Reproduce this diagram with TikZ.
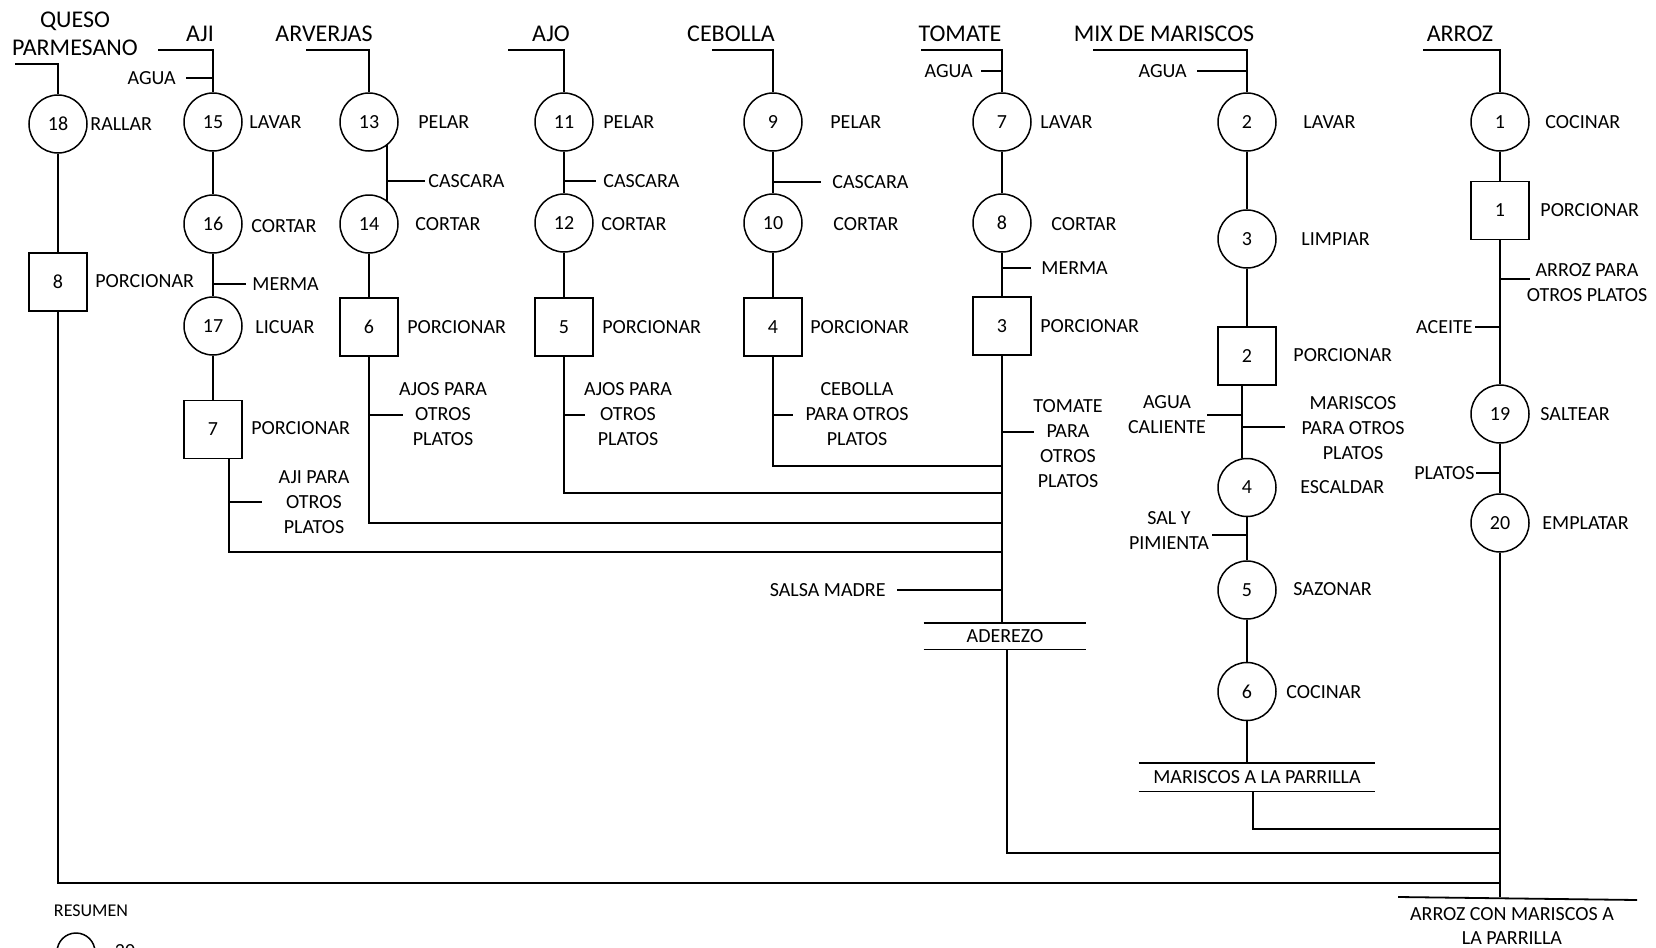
\documentclass[tikz,border=0pt]{standalone}
\usepackage{fontspec}
\setmainfont{Carlito}
\usetikzlibrary{calc}
\begin{document}
\begin{tikzpicture}[x=0.5pt,y=-0.5pt,
  every node/.style={font=\fontsize{10}{12.5}\selectfont, inner sep=0pt},
  proc/.style={circle, draw, line width=0.75pt, minimum size=29pt},
  port/.style={rectangle, draw, line width=0.75pt, minimum size=29pt},
  lbl/.style={anchor=west},
  lblr/.style={anchor=east},
  ttl/.style={font=\fontsize{12}{14}\selectfont, align=center},
  note/.style={align=center},
  conn/.style={line width=0.9pt},
  bar/.style={line width=0.9pt}]
\useasboundingbox (0,0) rectangle (1656,948);

% ---------- titles
\node[ttl] (tq)   at (75,34)   {QUESO\\PARMESANO};
\node[ttl] (taji) at (200,34)  {AJI};
\node[ttl] (tarv) at (324,34)  {ARVERJAS};
\node[ttl] (tajo) at (551,34)  {AJO};
\node[ttl] (tceb) at (731,34)  {CEBOLLA};
\node[ttl] (ttom) at (960,34)  {TOMATE};
\node[ttl] (tmix) at (1164,34) {MIX DE MARISCOS};
\node[ttl] (tarr) at (1460,34) {ARROZ};

% ---------- operations
\node[proc] (n18) at (58,124)   {18};
\node[proc] (n15) at (213,122)  {15};
\node[proc] (n13) at (369,122)  {13};
\node[proc] (n11) at (564,122)  {11};
\node[proc] (n9)  at (773,122)  {9};
\node[proc] (n7)  at (1002,122) {7};
\node[proc] (n2)  at (1247,122) {2};
\node[proc] (n1)  at (1500,122) {1};

\node[proc] (n16) at (213,224)  {16};
\node[proc] (n14) at (369,224)  {14};
\node[proc] (n12) at (564,223)  {12};
\node[proc] (n10) at (773,223)  {10};
\node[proc] (n8)  at (1002,223) {8};
\node[proc] (n3)  at (1247,239) {3};
\node[port] (b1)  at (1500,210.5) {1};

\node[port] (b8)  at (58,282)   {8};
\node[proc] (n17) at (213,326)  {17};
\node[port] (b6)  at (369,327)  {6};
\node[port] (b5)  at (564,327)  {5};
\node[port] (b4)  at (773,327)  {4};
\node[port] (b3)  at (1002,326) {3};
\node[port] (b2)  at (1247,356) {2};

\node[port] (b7)  at (213,429.5) {7};
\node[proc] (n4)  at (1247,487.5) {4};
\node[proc] (n19) at (1500,414) {19};
\node[proc] (n20) at (1500,523) {20};
\node[proc] (n5)  at (1247,590) {5};
\node[proc] (n6)  at (1247,691.5) {6};

% ---------- operation labels
\node[lbl] (l18) at (90,124)   {RALLAR};
\node[lbl] (l15) at (249,122)  {LAVAR};
\node[lbl] (l13) at (418,122)  {PELAR};
\node[lbl] (l11) at (603,122)  {PELAR};
\node[lbl] (l9)  at (830,122)  {PELAR};
\node[lbl] (l7)  at (1040,122) {LAVAR};
\node[lbl] (l2)  at (1303,122) {LAVAR};
\node[lbl] (l1)  at (1545,122) {COCINAR};

\node[lbl] (l16) at (251,226)  {CORTAR};
\node[lbl] (l14) at (415,224)  {CORTAR};
\node[lbl] (l12) at (601,224)  {CORTAR};
\node[lbl] (l10) at (833,224)  {CORTAR};
\node[lbl] (l8)  at (1051,224) {CORTAR};
\node[lbl] (l3)  at (1301,239) {LIMPIAR};
\node[lbl] (lb1) at (1540,210) {PORCIONAR};

\node[lbl] (lb8) at (95,281)   {PORCIONAR};
\node[lbl] (l17) at (255,327)  {LICUAR};
\node[lbl] (lb6) at (407,327)  {PORCIONAR};
\node[lbl] (lb5) at (602,327)  {PORCIONAR};
\node[lbl] (lb4) at (810,327)  {PORCIONAR};
\node[lbl] (lb3) at (1040,326) {PORCIONAR};
\node[lbl] (lb2) at (1293,355) {PORCIONAR};

\node[lbl] (lb7) at (251,428)  {PORCIONAR};
\node[lbl] (l4)  at (1300,487) {ESCALDAR};
\node[lbl] (l19) at (1540,414) {SALTEAR};
\node[lbl] (l20) at (1542,523) {EMPLATAR};
\node[lbl] (l5)  at (1293,589) {SAZONAR};
\node[lbl] (l6)  at (1286,692) {COCINAR};

% ---------- side inputs / outputs
\node[lblr] (aguaA) at (176,78)  {AGUA};
\node[lblr] (aguaT) at (973,71)  {AGUA};
\node[lblr] (aguaM) at (1187,71) {AGUA};
\node[lbl]  (mermaA) at (252,284) {MERMA};
\node[lbl]  (mermaT) at (1041,268) {MERMA};
\node[lbl]  (casV) at (428,181) {CASCARA};
\node[lbl]  (casJ) at (603,181) {CASCARA};
\node[lbl]  (casC) at (832,182) {CASCARA};
\node[note] (otA) at (314,502)  {AJI PARA\\OTROS\\PLATOS};
\node[note] (otV) at (443,414)  {AJOS PARA\\OTROS\\PLATOS};
\node[note] (otJ) at (628,414)  {AJOS PARA\\OTROS\\PLATOS};
\node[note] (otC) at (857,414)  {CEBOLLA\\PARA OTROS\\PLATOS};
\node[note] (otT) at (1068,444) {TOMATE\\PARA\\OTROS\\PLATOS};
\node[lblr] (salsa) at (886,590) {SALSA MADRE};
\node[note] (aguaC) at (1167,414.5) {AGUA\\CALIENTE};
\node[note] (otM) at (1353,428) {MARISCOS\\PARA OTROS\\PLATOS};
\node[note] (salp) at (1169,531) {SAL Y\\PIMIENTA};
\node[note] (otR) at (1587,282.5) {ARROZ PARA\\OTROS PLATOS};
\node[lblr] (aceite) at (1473,327) {ACEITE};
\node[lblr] (platos) at (1475,473) {PLATOS};

% ---------- intermediate / final products
\node[minimum width=81pt, minimum height=13pt] (ader) at (1005,636) {ADEREZO};
\draw[bar] (ader.north west) -- (ader.north east);
\draw[bar] (ader.south west) -- (ader.south east);
\node[minimum width=118pt, minimum height=14pt] (mar) at (1257,777) {MARISCOS A LA PARRILLA};
\draw[bar] (mar.north west) -- (mar.north east);
\draw[bar] (mar.south west) -- (mar.south east);
\node[note, font=\fontsize{10}{12}\selectfont] (fin) at (1512,926) {ARROZ CON MARISCOS A\\LA PARRILLA};
\coordinate (finL) at (1398,897);
\coordinate (finR) at (1637,900);
\draw[bar] (finL) -- (finR);

% ---------- legend (cut off at the bottom)
\node[font=\fontsize{9}{11}\selectfont] (res) at (91,911) {RESUMEN};
\node[proc, minimum size=19pt] (leg) at (76,952) {};
\node (legn) at (125,951) {20};

% ---------- merge points
\coordinate (mc) at (1002,466);
\coordinate (ma) at (1002,493);
\coordinate (mv) at (1002,523);
\coordinate (mj) at (1002,552);
\coordinate (jm) at (1500,829);
\coordinate (jd) at (1500,853);
\coordinate (jq) at (1500,883);

% ---------- QUESO PARMESANO
\coordinate (q0) at (15,64);
\draw[conn] (q0) -| (n18);
\draw[conn] (n18) -- (b8);
\draw[conn] (b8) |- (jq);

% ---------- AJI
\coordinate (a0) at (158,50);
\draw[conn] (a0) -| (n15);
\draw[conn] ($(aguaA.east)+(10,0)$) -- (aguaA.east -| n15);
\draw[conn] (n15) -- (n16);
\draw[conn] (n16) -- (n17);
\draw[conn] (mermaA.west -| n16) -- ($(mermaA.west)+(-6,0)$);
\draw[conn] (n17) -- (b7);
\coordinate (b7o) at ($(b7.south)+(16,0)$);
\draw[conn] (b7o) |- (mj);
\draw[conn] (b7o |- otA) -- ($(otA.west)+(-16,0)$);

% ---------- ARVERJAS
\coordinate (v0) at (306,50);
\draw[conn] (v0) -| (n13);
\draw[conn] (n13.-52) -- (n14.52);
\draw[conn] (n13.-52 |- casV.west) -- ($(casV.west)+(-3,0)$);
\draw[conn] (n14) -- (b6);
\draw[conn] (b6) |- (mv);
\coordinate (otVe) at (403,415);
\draw[conn] (b6 |- otVe) -- (otVe);

% ---------- AJO
\coordinate (j0) at (508,50);
\draw[conn] (j0) -| (n11);
\draw[conn] (n11) -- (n12);
\draw[conn] (n11 |- casJ.west) -- ($(casJ.west)+(-7,0)$);
\draw[conn] (n12) -- (b5);
\draw[conn] (b5) |- (ma);
\coordinate (otJe) at (585,415);
\draw[conn] (b5 |- otJe) -- (otJe);

% ---------- CEBOLLA
\coordinate (c0) at (712,50);
\draw[conn] (c0) -| (n9);
\draw[conn] (n9) -- (n10);
\draw[conn] (n9 |- casC.west) -- ($(casC.west)+(-11,0)$);
\draw[conn] (n10) -- (b4);
\draw[conn] (b4) |- (mc);
\coordinate (otCe) at (793,415);
\draw[conn] (b4 |- otCe) -- (otCe);

% ---------- TOMATE
\coordinate (t0) at (921,50);
\draw[conn] (t0) -| (n7);
\draw[conn] ($(aguaT.east)+(8,0)$) -- (aguaT.east -| n7);
\draw[conn] (n7) -- (n8);
\draw[conn] (mermaT.west -| n8) -- ($(mermaT.west)+(-10,0)$);
\draw[conn] (n8) -- (b3);
\draw[conn] (b3) -- (b3 |- ader.north);
\coordinate (otTe) at (1034,432);
\draw[conn] (b3 |- otTe) -- (otTe);
\draw[conn] ($(salsa.east)+(11,0)$) -- (salsa.east -| b3);
\draw[conn] ($(ader.south)+(2,0)$) |- (jd);

% ---------- MIX DE MARISCOS
\coordinate (m0) at (1093,50);
\draw[conn] (m0) -| (n2);
\draw[conn] ($(aguaM.east)+(10,0)$) -- (aguaM.east -| n2);
\draw[conn] (n2) -- (n3);
\draw[conn] (n3) -- (b2);
\coordinate (b2o) at ($(b2.south)+(-5,0)$);
\draw[conn] (b2o) -- (b2o |- n4.north);
\coordinate (acE) at (1207,415);
\draw[conn] (acE) -- (acE -| b2o);
\coordinate (omE) at (1285,427);
\draw[conn] (omE -| b2o) -- (omE);
\draw[conn] (n4) -- (n5);
\coordinate (spE) at (1212,535);
\draw[conn] (spE) -- (spE -| n4);
\draw[conn] (n5) -- (n6);
\draw[conn] (n6) -- (n6 |- mar.north);
\draw[conn] ($(mar.south)+(-4,0)$) |- (jm);

% ---------- ARROZ
\coordinate (r0) at (1423,50);
\draw[conn] (r0) -| (n1);
\draw[conn] (n1) -- (b1);
\draw[conn] (b1) -- (n19);
\coordinate (orE) at (1530,279);
\draw[conn] (orE -| b1) -- (orE);
\draw[conn] ($(aceite.east)+(2,0)$) -- (aceite.east -| b1);
\draw[conn] (n19) -- (n20);
\draw[conn] ($(platos.east)+(1,0)$) -- (platos.east -| n19);
\draw[conn] (n20) -- (n20 |- finL);
\end{tikzpicture}
\end{document}
